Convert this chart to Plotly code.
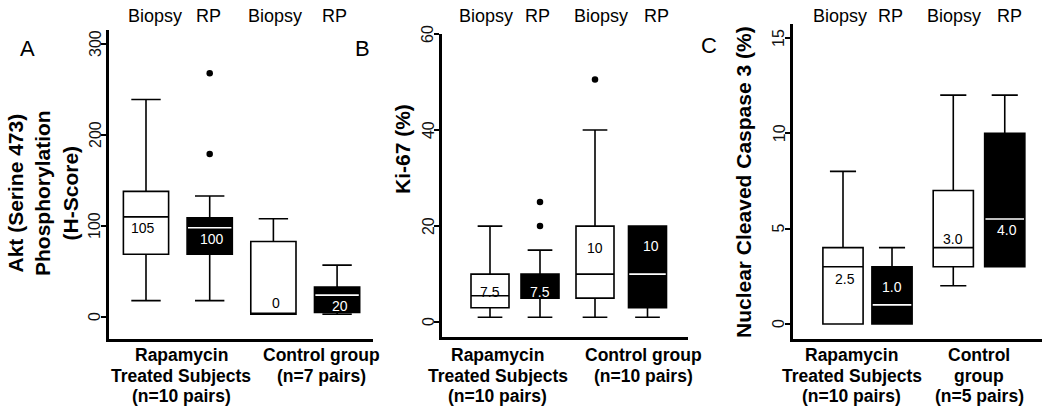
import plotly.graph_objects as go

W, H = 1050, 415
FONT = "Liberation Sans, Arial, sans-serif"

# ---------------- data ----------------
box_names = ["Biopsy", "RP", "Biopsy", "RP"]
box_fills = ["white", "black", "white", "black"]

# Panel A: Akt (Serine 473) phosphorylation, H-score
akt_lower = [18, 18, 3, 3]
akt_q1 = [69, 69, 3, 5]
akt_median = [110, 98, 3, 24]
akt_q3 = [138, 109, 83, 33]
akt_upper = [239, 133, 108, 57]
akt_outliers = [[], [268, 179], [], []]
akt_median_text = ["105", "100", "0", "20"]
akt_ticks = [0, 100, 200, 300]
akt_groups = [["Rapamycin", "Treated Subjects", "(n=10 pairs)"], ["Control group", "(n=7 pairs)"]]

# Panel B: Ki-67 (%)
ki_lower = [1, 1, 1, 1]
ki_q1 = [3, 5, 5, 3]
ki_median = [5.5, 5, 10, 10]
ki_q3 = [10, 10, 20, 20]
ki_upper = [20, 15, 40, 20]
ki_outliers = [[], [25, 20], [50.5], [61]]
ki_median_text = ["7.5", "7.5", "10", "10"]
ki_ticks = [0, 20, 40, 60]
ki_groups = [["Rapamycin", "Treated Subjects", "(n=10 pairs)"], ["Control group", "(n=10 pairs)"]]

# Panel C: Nuclear cleaved caspase 3 (%)
cc_lower = [0, 0, 2, 3]
cc_q1 = [0, 0, 3, 3]
cc_median = [3, 1, 4, 5.5]
cc_q3 = [4, 3, 7, 10]
cc_upper = [8, 4, 12, 12]
cc_outliers = [[], [], [], []]
cc_median_text = ["2.5", "1.0", "3.0", "4.0"]
cc_ticks = [0, 5, 10, 15]
cc_groups = [["Rapamycin", "Treated Subjects", "(n=10 pairs)"], ["Control", "group", "(n=5 pairs)"]]

# ---------------- layout config ----------------
panels = [
    dict(key="", lower=akt_lower, q1=akt_q1, med=akt_median, q3=akt_q3, upper=akt_upper,
         out=akt_outliers, mtext=akt_median_text, groups=akt_groups, ticks=akt_ticks,
         pos=[1, 2, 3, 4], width=0.71, xrange=[0.419, 4.564], yrange=[-24.2, 315.4],
         px=(109, 373), py=(30, 339),
         label_dx=[-0.05, 0.04, 0.04, 0.05], label_y=[98, 86, 15, 12],
         group_x=[1.55, 3.76], header_px=[155, 208, 275, 334],
         letter="A", letter_px=(27, 49)),
    dict(key="2", lower=ki_lower, q1=ki_q1, med=ki_median, q3=ki_q3, upper=ki_upper,
         out=ki_outliers, mtext=ki_median_text, groups=ki_groups, ticks=ki_ticks,
         pos=[1, 2, 3.1, 4.15], width=0.76, xrange=[0.04, 4.96], yrange=[-3.1, 60],
         px=(442, 688), py=(34, 337),
         label_dx=[0, 0, 0, 0.07], label_y=[6.25, 6.25, 15.4, 15.8],
         group_x=[1.15, 4.06], header_px=[486, 537, 601, 656],
         letter="B", letter_px=(362, 48)),
    dict(key="3", lower=cc_lower, q1=cc_q1, med=cc_median, q3=cc_q3, upper=cc_upper,
         out=cc_outliers, mtext=cc_median_text, groups=cc_groups, ticks=cc_ticks,
         pos=[1, 2, 3.25, 4.3], width=0.82, xrange=[-0.02, 5.06], yrange=[-0.79, 15.73],
         px=(793, 1042), py=(24, 339),
         label_dx=[0.04, 0, 0, 0.04], label_y=[2.36, 1.94, 4.46, 4.93],
         group_x=[1.18, 3.78], header_px=[840, 890, 954, 1009],
         letter="C", letter_px=(709, 45)),
]

GROUP_LINE0 = 355   # pixel centre of first group-label line
GROUP_LINE_STEP = 20.5
TICKLABEL_GAP = 14  # px from axis line to centre of rotated tick label

fig = go.Figure()
annotations = []
layout_axes = {}

for p in panels:
    xa, ya = "x" + p["key"], "y" + p["key"]
    x0, x1 = p["px"]
    y0, y1 = p["py"]
    for i in range(4):
        fill = box_fills[i]
        fig.add_trace(go.Box(
            x=[p["pos"][i]], q1=[p["q1"][i]], median=[p["med"][i]], q3=[p["q3"][i]],
            lowerfence=[p["lower"][i]], upperfence=[p["upper"][i]],
            width=p["width"], whiskerwidth=0.65, fillcolor=fill,
            line=dict(color="black", width=1.6), boxpoints=False,
            name=box_names[i], xaxis=xa, yaxis=ya, hoverinfo="skip"))
        # white median line on dark boxes (only if distinct from box edges)
        if fill == "black" and p["q1"][i] < p["med"][i] < p["q3"][i]:
            hw = p["width"] / 2 * 0.96
            fig.add_trace(go.Scatter(
                x=[p["pos"][i] - hw, p["pos"][i] + hw], y=[p["med"][i], p["med"][i]],
                mode="lines", line=dict(color="white", width=1.6),
                xaxis=xa, yaxis=ya, hoverinfo="skip"))
        if p["out"][i]:
            fig.add_trace(go.Scatter(
                x=[p["pos"][i]] * len(p["out"][i]), y=p["out"][i], mode="markers",
                marker=dict(color="black", size=6.5), cliponaxis=False,
                xaxis=xa, yaxis=ya, hoverinfo="skip"))
        # median value labels
        annotations.append(dict(
            x=p["pos"][i] + p["label_dx"][i], y=p["label_y"][i], xref=xa, yref=ya,
            text=p["mtext"][i], showarrow=False,
            font=dict(family=FONT, size=14, color="white" if fill == "black" else "black")))
        # header labels
        annotations.append(dict(
            x=p["header_px"][i] / W, y=1 - 16 / H, xref="paper", yref="paper",
            text=box_names[i], showarrow=False, xanchor="center", yanchor="middle",
            font=dict(family=FONT, size=18, color="black")))
    # rotated y tick labels, centred on their ticks
    for t in p["ticks"]:
        annotations.append(dict(
            x=(x0 - TICKLABEL_GAP) / W, y=t, xref="paper", yref=ya, text=str(t),
            textangle=-90, showarrow=False, xanchor="center", yanchor="middle",
            font=dict(family=FONT, size=16, color="#111")))
    # group labels, one annotation per line
    for gx, lines in zip(p["group_x"], p["groups"]):
        for k, line in enumerate(lines):
            annotations.append(dict(
                x=gx, y=1 - (GROUP_LINE0 + k * GROUP_LINE_STEP) / H, xref=xa, yref="paper",
                text="<b>" + line + "</b>", showarrow=False,
                xanchor="center", yanchor="middle",
                font=dict(family=FONT, size=17.5, color="black")))
    # panel letter
    annotations.append(dict(
        x=p["letter_px"][0] / W, y=1 - p["letter_px"][1] / H, xref="paper", yref="paper",
        text=p["letter"], showarrow=False, xanchor="center", yanchor="middle",
        font=dict(family=FONT, size=22, color="black")))

    layout_axes["xaxis" + p["key"]] = dict(
        domain=[x0 / W, x1 / W], range=p["xrange"], anchor=ya,
        showline=True, linewidth=3, linecolor="black", showticklabels=False,
        ticks="", showgrid=False, zeroline=False, fixedrange=True)
    layout_axes["yaxis" + p["key"]] = dict(
        domain=[1 - y1 / H, 1 - y0 / H], range=p["yrange"], anchor=xa,
        showline=True, linewidth=3, linecolor="black", ticks="outside",
        ticklen=5, tickwidth=1.5, tickcolor="black", tickvals=p["ticks"],
        showticklabels=False, showgrid=False, zeroline=False, fixedrange=True)

# y-axis titles
annotations.append(dict(
    x=43 / W, y=1 - 193 / H, xref="paper", yref="paper", textangle=-90,
    text="<b>Akt (Serine 473)<br>Phosphorylation<br>(H-Score)</b>", showarrow=False,
    xanchor="center", yanchor="middle", align="center",
    font=dict(family=FONT, size=21, color="black")))
annotations.append(dict(
    x=402 / W, y=1 - 149 / H, xref="paper", yref="paper", textangle=-90,
    text="<b>Ki-67 (%)</b>", showarrow=False, xanchor="center", yanchor="middle",
    font=dict(family=FONT, size=21, color="black")))
annotations.append(dict(
    x=743 / W, y=1 - 182 / H, xref="paper", yref="paper", textangle=-90,
    text="<b>Nuclear Cleaved Caspase 3 (%)</b>", showarrow=False,
    xanchor="center", yanchor="middle",
    font=dict(family=FONT, size=21, color="black")))

fig.update_layout(
    width=W, height=H, margin=dict(l=0, r=0, t=0, b=0),
    paper_bgcolor="white", plot_bgcolor="white", showlegend=False,
    boxmode="overlay", annotations=annotations, font=dict(family=FONT),
    **layout_axes)

fig.write_html("out.html", config={"displayModeBar": False})

# remove the browser's default page margin so the figure sits at (0, 0)
with open("out.html", "r", encoding="utf-8") as f:
    html = f.read()
html = html.replace("<head>", "<head><style>html,body{margin:0;padding:0;overflow:hidden;}</style>", 1)
with open("out.html", "w", encoding="utf-8") as f:
    f.write(html)
